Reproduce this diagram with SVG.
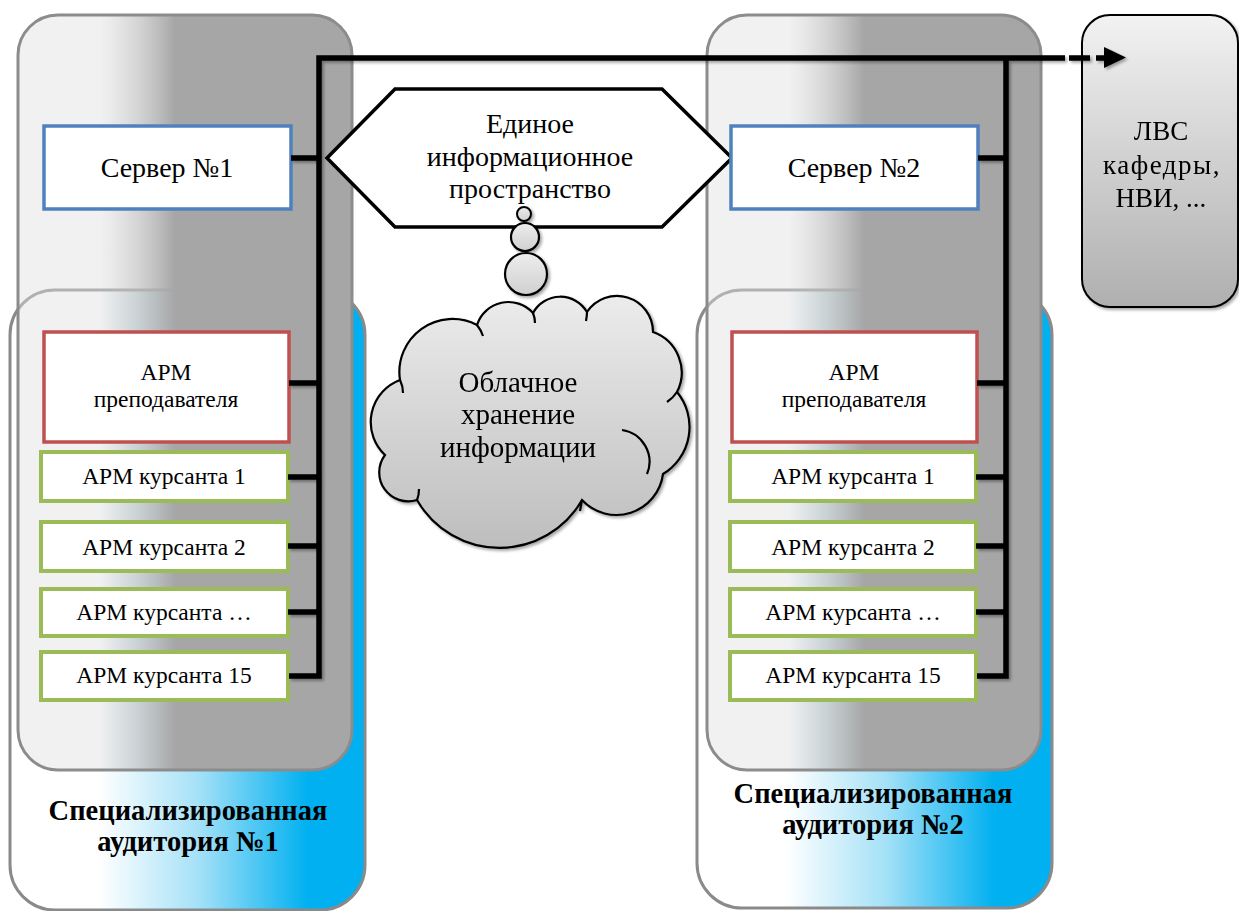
<svg xmlns="http://www.w3.org/2000/svg" width="1239" height="911" viewBox="0 0 1239 911">
<style>
text{font-family:"Liberation Serif","Liberation Sans",Arial,sans-serif;fill:#000;text-anchor:middle}
.room{stroke:#8a8a8a;stroke-width:3;fill:url(#gBlue)}
.rack{stroke:#8c8c8c;stroke-width:3;fill:url(#gGray)}
.srv{fill:#fff;stroke:#4f81bd;stroke-width:3.5}
.tch{fill:#fff;stroke:#c0504d;stroke-width:3.5}
.std{fill:#fff;stroke:#9bbb59;stroke-width:4}
.big{font-size:28px}
.cld{font-size:29px}
.apm{font-size:23.5px}
.lbl{font-size:28.5px;font-weight:bold}
.lvs{font-size:27px}
.bus{fill:none;stroke:#000;stroke-width:5.5;stroke-linejoin:miter}
.cl{stroke:#000;stroke-width:2.2;fill:url(#gCloud)}
.det{fill:none;stroke:#000;stroke-width:2.2}
</style>
<defs>
<linearGradient id="gBlue" x1="0" y1="0" x2="1" y2="0">
<stop offset="0" stop-color="#ffffff"/>
<stop offset="0.25" stop-color="#ffffff"/>
<stop offset="0.53" stop-color="#a5e1f7"/>
<stop offset="0.84" stop-color="#00b0f0"/>
<stop offset="1" stop-color="#00b0f0"/>
</linearGradient>
<linearGradient id="gGray" x1="0" y1="0" x2="1" y2="0">
<stop offset="0" stop-color="#e0e0e0" stop-opacity="0.45"/>
<stop offset="0.245" stop-color="#e0e0e0" stop-opacity="0.45"/>
<stop offset="0.36" stop-color="#c3c3c3" stop-opacity="0.72"/>
<stop offset="0.47" stop-color="#a6a6a6" stop-opacity="1"/>
<stop offset="1" stop-color="#a6a6a6" stop-opacity="1"/>
</linearGradient>
<linearGradient id="gCloud" gradientUnits="userSpaceOnUse" x1="0" y1="295" x2="0" y2="550">
<stop offset="0" stop-color="#ececec"/>
<stop offset="1" stop-color="#bdbdbd"/>
</linearGradient>
<linearGradient id="gBub" x1="0" y1="0" x2="0" y2="1">
<stop offset="0" stop-color="#ededed"/>
<stop offset="1" stop-color="#d0d0d0"/>
</linearGradient>
<linearGradient id="gLvs" x1="0" y1="0" x2="0" y2="1">
<stop offset="0" stop-color="#f2f2f2"/>
<stop offset="1" stop-color="#afafaf"/>
</linearGradient>
<filter id="sh" x="-10%" y="-10%" width="130%" height="130%">
<feDropShadow dx="2" dy="2" stdDeviation="1.6" flood-color="#000" flood-opacity="0.35"/>
</filter>
</defs>
<rect width="1239" height="911" fill="#fff"/>

<g id="room1">
<rect class="room" x="10" y="290" width="355" height="620" rx="45"/>
</g>
<g id="room2">
<rect class="room" x="697" y="290" width="355" height="618" rx="45"/>
</g>
<g id="rack1">
<rect class="rack" x="18" y="15" width="334" height="755" rx="40"/>
</g>
<g id="rack2">
<rect class="rack" x="707" y="15" width="334" height="755" rx="40"/>
</g>
<g id="room1-label">
<text class="lbl" x="188" y="820">Специализированная</text>
<text class="lbl" x="188" y="851">аудитория №1</text>
</g>
<g id="room2-label">
<text class="lbl" x="873" y="803">Специализированная</text>
<text class="lbl" x="873" y="834">аудитория №2</text>
</g>

<g id="space">
<polygon points="327,158 395,89 662,89 732,158 662,227 395,227" fill="#fff" stroke="#000" stroke-width="3.5"/>
<text class="big" x="530" y="133">Единое</text>
<text class="big" x="530" y="166">информационное</text>
<text class="big" x="530" y="198">пространство</text>
</g>

<g id="cloud" filter="url(#sh)">
<path class="cl" d="M400,380 A53,53 0 0 1 477,325 A33,33 0 0 1 533,313 A31,31 0 0 1 587,312 A36,36 0 0 1 653,332 A43,43 0 0 1 677,392 A55,55 0 0 1 663,474 A47,47 0 0 1 582,500 A95,95 0 0 1 417,500 A29,29 0 0 1 385,455 A45,45 0 0 1 400,380 Z"/>
<path class="det" d="M400,380 q3,6 3,13 M477,325 q4,5 6,11 M533,313 q2,5 2,10 M587,312 q0,4 -1,9 M677,392 q-4,6 -10,10 M622,430 A32,32 0 0 1 647,474 M582,500 q-1,5 -2,11 M417,500 q2,-5 2,-11"/>
<text class="cld" x="518" y="392">Облачное</text>
<text class="cld" x="518" y="424">хранение</text>
<text class="cld" x="518" y="457">информации</text>
</g>

<g id="bubbles" filter="url(#sh)">
<circle cx="526" cy="274" r="21" fill="url(#gBub)" stroke="#000" stroke-width="2.2"/>
<circle cx="525" cy="237" r="14" fill="url(#gBub)" stroke="#000" stroke-width="2.2"/>
<circle cx="524" cy="214" r="7" fill="url(#gBub)" stroke="#000" stroke-width="2"/>
</g>

<g id="lvs" filter="url(#sh)">
<rect x="1082" y="15" width="156" height="292" rx="28" fill="url(#gLvs)" stroke="#000" stroke-width="2"/>
<text class="lvs" x="1161" y="140">ЛВС</text>
<text class="lvs" x="1162" y="174" letter-spacing="1.5">кафедры,</text>
<text class="lvs" x="1161" y="207">НВИ, ...</text>
</g>

<g id="server1">
<rect class="srv" x="44" y="126" width="247" height="83"/>
<text class="big" x="167" y="177">Сервер №1</text>
</g>
<g id="teacher1">
<rect class="tch" x="44" y="332" width="245" height="110"/>
<text class="apm" x="166" y="380">АРМ</text>
<text class="apm" x="166" y="407">преподавателя</text>
</g>
<g id="cadet1-1">
<rect class="std" x="41" y="452" width="247" height="49"/>
<text class="apm" x="164" y="484">АРМ курсанта 1</text>
</g>
<g id="cadet1-2">
<rect class="std" x="41" y="522" width="247" height="49"/>
<text class="apm" x="164" y="555">АРМ курсанта 2</text>
</g>
<g id="cadet1-n">
<rect class="std" x="41" y="589" width="247" height="47"/>
<text class="apm" x="164" y="620">АРМ курсанта …</text>
</g>
<g id="cadet1-15">
<rect class="std" x="41" y="652" width="247" height="48"/>
<text class="apm" x="164" y="683">АРМ курсанта 15</text>
</g>

<g id="server2">
<rect class="srv" x="731" y="126" width="247" height="83"/>
<text class="big" x="854" y="177">Сервер №2</text>
</g>
<g id="teacher2">
<rect class="tch" x="732" y="332" width="245" height="110"/>
<text class="apm" x="854" y="380">АРМ</text>
<text class="apm" x="854" y="407">преподавателя</text>
</g>
<g id="cadet2-1">
<rect class="std" x="730" y="452" width="246" height="49"/>
<text class="apm" x="853" y="484">АРМ курсанта 1</text>
</g>
<g id="cadet2-2">
<rect class="std" x="730" y="522" width="246" height="49"/>
<text class="apm" x="853" y="555">АРМ курсанта 2</text>
</g>
<g id="cadet2-n">
<rect class="std" x="730" y="589" width="246" height="47"/>
<text class="apm" x="853" y="620">АРМ курсанта …</text>
</g>
<g id="cadet2-15">
<rect class="std" x="730" y="652" width="246" height="48"/>
<text class="apm" x="853" y="683">АРМ курсанта 15</text>
</g>

<g id="connectors" filter="url(#sh)">
<path class="bus" d="M289,676 H319 V58 H1065"/>
<path class="bus" d="M291,158 H319 M289,383 H319 M288,477 H319 M288,546 H319 M288,612 H319"/>
<path class="bus" d="M977,676 H1006 V58"/>
<path class="bus" d="M978,158 H1006 M977,383 H1006 M976,477 H1006 M976,546 H1006 M976,612 H1006"/>
<path class="bus" d="M1069,58 H1090 M1096,58 H1106"/>
<polygon points="1104,47 1126,57.5 1104,68" fill="#000"/>
</g>
</svg>
